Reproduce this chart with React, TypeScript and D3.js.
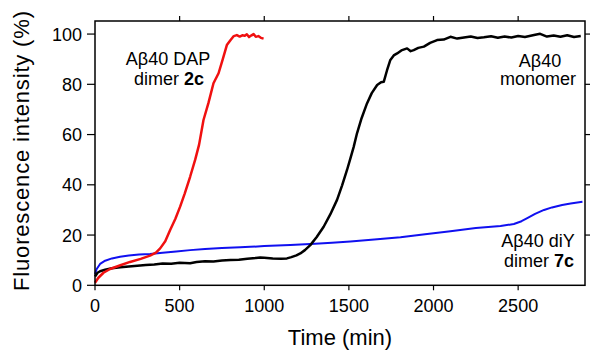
import React from 'react';
import * as d3 from 'd3';

// time (min) and fluorescence (%)
const redTime = [0, 20, 50, 89, 150, 207, 270, 325, 360, 385, 415, 444, 475, 503, 530, 562, 592, 615, 641, 670, 700, 730, 755, 779, 800, 820, 838, 855, 870, 885, 897, 910, 925, 937, 950, 965, 980, 996];
const redValue = [1.0, 3.0, 5.0, 6.5, 8.0, 9.3, 10.5, 11.8, 13.0, 14.7, 17.5, 22, 26.5, 31.3, 36.5, 43.2, 50, 56, 65.8, 72.5, 80.4, 84.4, 90, 95.6, 97.5, 99.2, 99.6, 99.0, 99.5, 99.3, 99.9, 98.8, 99.5, 100, 98.9, 99.2, 98.5, 98.2];

const blackTime = [0, 15, 30, 60, 100, 150, 200, 250, 300, 350, 400, 450, 500, 562, 600, 650, 700, 750, 800, 850, 900, 950, 976, 1000, 1050, 1100, 1134, 1160, 1190, 1213, 1240, 1272, 1310, 1351, 1390, 1430, 1460, 1489, 1509, 1528, 1548, 1575, 1607, 1635, 1667, 1690, 1706, 1725, 1745, 1765, 1785, 1810, 1844, 1865, 1883, 1910, 1943, 1980, 2021, 2060, 2100, 2140, 2180, 2220, 2260, 2298, 2340, 2380, 2420, 2460, 2500, 2540, 2594, 2630, 2670, 2710, 2750, 2790, 2830, 2870];
const blackValue = [3.5, 5.0, 5.6, 6.2, 6.8, 7.2, 7.5, 7.8, 8.1, 8.3, 8.7, 8.6, 9.0, 8.8, 9.3, 9.6, 9.5, 9.9, 10.1, 10.2, 10.6, 10.9, 11.1, 11.0, 10.7, 10.6, 10.7, 11.2, 11.9, 12.7, 14.0, 16.0, 19.2, 23.3, 28.2, 34, 39.8, 45.9, 50.5, 55, 60.5, 66.5, 72.4, 76.5, 79.7, 80.8, 81, 85.5, 89.7, 91.5, 92.3, 93.5, 94.3, 93.2, 93.6, 94.5, 95, 96.5, 97.6, 97.8, 98.9, 98.2, 98.6, 99.0, 98.4, 98.7, 99.1, 98.5, 99.0, 98.6, 99.2, 98.8, 99.6, 100.1, 99.0, 99.4, 98.9, 99.5, 98.8, 99.2];

const blueTime = [0, 10, 30, 60, 100, 148, 200, 260, 325, 400, 480, 562, 650, 750, 858, 917, 1000, 1154, 1300, 1400, 1509, 1650, 1805, 1950, 2100, 2250, 2396, 2475, 2520, 2554, 2600, 2653, 2700, 2760, 2810, 2880];
const blueValue = [4.5, 6.5, 8.5, 9.8, 10.7, 11.4, 11.9, 12.3, 12.5, 13.0, 13.5, 14.0, 14.4, 14.8, 15.1, 15.3, 15.6, 16.0, 16.5, 16.9, 17.4, 18.2, 19.1, 20.3, 21.5, 22.8, 23.6, 24.4, 25.5, 26.7, 28.4, 30.0, 31.0, 32.0, 32.6, 33.3];

const xTicks = [0, 500, 1000, 1500, 2000, 2500];
const yTicks = [0, 20, 40, 60, 80, 100];

const FONT = '"Liberation Sans", Arial, sans-serif';

export default function App() {
  const x = d3.scaleLinear().domain([0, 2895]).range([95, 585]);
  const y = d3.scaleLinear().domain([0, 105.2]).range([285.3, 21]);

  const line = d3.line<[number, number]>()
    .x(d => x(d[0]))
    .y(d => y(d[1]));

  const series = [
    { t: blueTime, v: blueValue, color: '#1010f0', w: 2 },
    { t: blackTime, v: blackValue, color: '#000000', w: 2.5 },
    { t: redTime, v: redValue, color: '#f01010', w: 2.5 },
  ];

  const [x0, x1] = x.range();
  const [y0, y1] = y.range();

  return (
    <svg width={590} height={350} style={{ position: 'absolute', left: 0, top: 0 }} fontFamily={FONT}>
      <rect width={590} height={350} fill="#fff" />
      {series.map((s, i) => (
        <path key={i}
          d={line(s.t.map((t, j) => [t, s.v[j]] as [number, number])) || ''}
          fill="none" stroke={s.color} strokeWidth={s.w} strokeLinejoin="round" />
      ))}

      {/* frame */}
      <rect x={x0} y={y1} width={x1 - x0} height={y0 - y1} fill="none" stroke="#000" strokeWidth={1.5} />

      {xTicks.map(t => (
        <g key={'x' + t}>
          <line x1={x(t)} x2={x(t)} y1={y0} y2={y0 + 5} stroke="#000" strokeWidth={1.2} />
          {t > 0 && <line x1={x(t)} x2={x(t)} y1={y1} y2={y1 - 5} stroke="#000" strokeWidth={1.2} />}
          <text x={x(t)} y={y0 + 27} textAnchor="middle" fontSize={18}>{t}</text>
        </g>
      ))}
      {yTicks.map(t => (
        <g key={'y' + t}>
          <line x1={x0} x2={x0 - 8} y1={y(t)} y2={y(t)} stroke="#000" strokeWidth={1.2} />
          {t > 0 && <line x1={x1} x2={x1 + 5} y1={y(t)} y2={y(t)} stroke="#000" strokeWidth={1.2} />}
          <text x={x0 - 13} y={y(t) + 6.5} textAnchor="end" fontSize={18}>{t}</text>
        </g>
      ))}

      <text x={340} y={345} textAnchor="middle" fontSize={22}>Time (min)</text>
      <text transform="translate(29,151) rotate(-90)" textAnchor="middle" fontSize={22}
        textLength={280} lengthAdjust="spacing">Fluorescence intensity (%)</text>

      <text x={168} y={65} textAnchor="middle" fontSize={18}>Aβ40 DAP</text>
      <text x={169} y={85} textAnchor="middle" fontSize={18}>dimer <tspan fontWeight="bold">2c</tspan></text>

      <text x={540} y={66.5} textAnchor="middle" fontSize={18}>Aβ40</text>
      <text x={538} y={85} textAnchor="middle" fontSize={18}>monomer</text>

      <text x={538} y={246.5} textAnchor="middle" fontSize={18}>Aβ40 diY</text>
      <text x={539} y={266.5} textAnchor="middle" fontSize={18}>dimer <tspan fontWeight="bold">7c</tspan></text>
    </svg>
  );
}
